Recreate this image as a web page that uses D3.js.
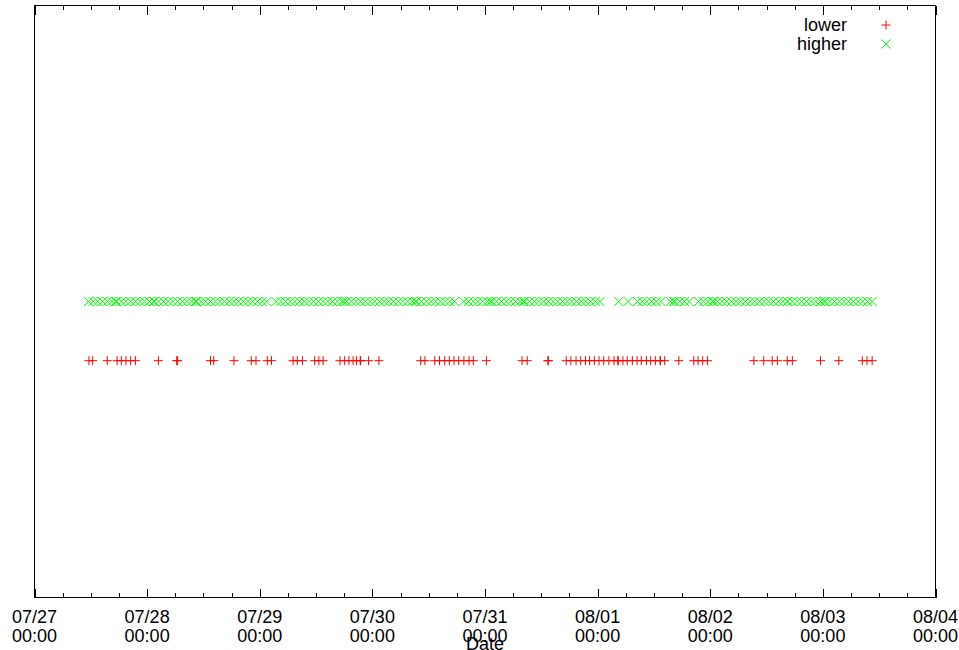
<!DOCTYPE html>
<html>
<head>
<meta charset="utf-8">
<script src="https://cdn.jsdelivr.net/npm/d3@7"></script>
<style>
  html, body { margin: 0; padding: 0; background: #fff; }
  svg { display: block; }
  text { font-family: "Liberation Sans", Arial, Helvetica, sans-serif; font-size: 18px; fill: #000; }
</style>
</head>
<body>
<svg id="chart" width="959" height="650"></svg>
<script>
// Day labels along the time axis (first line: date, second line: time)
const dayLabels = ["07/27", "07/28", "07/29", "07/30", "07/31", "08/01", "08/02", "08/03", "08/04"];
const timeLabel = "00:00";
const year = 2013;

// Series names and the level each one is plotted at
const seriesNames = ["lower", "higher"];
const seriesLevels = [1, 2];
const seriesColors = ["#ff0000", "#00ff00"];

// Sample times, in hours since 07/27 00:00
const lowerHours = [
  11.6, 12.4, 15.5, 17.6, 18.5, 19.5, 20.5, 21.5, 26.4, 30.3, 30.5, 37.5, 38.2, 42.5,
  46.2, 47.2, 49.6, 50.5, 55.1, 56.0, 57.1, 59.7, 60.6, 61.5, 65.1, 66.1, 67.0, 67.9,
  68.6, 69.4, 69.5, 71.2, 73.4,
  82.3, 83.2, 85.3, 86.3, 87.4, 88.4, 89.4, 90.4, 91.5, 92.6, 93.5, 96.3, 103.9, 105.0,
  109.4, 109.5,
  113.3, 114.3, 115.4, 116.4, 117.4, 118.3, 119.3, 120.3, 121.3, 122.4, 123.5, 124.3,
  124.4, 125.4, 126.3, 127.4, 128.4, 129.3, 130.4, 131.3, 132.3, 133.3, 133.4, 134.3,
  137.3, 140.5, 141.4, 142.4, 143.4,
  153.3, 155.4, 157.2, 158.3, 160.4, 161.5, 167.5, 171.4, 176.4, 177.4, 178.5
];

const higherHours = [
  11.5, 12.5, 13.5, 14.5, 15.5, 16.5, 17.5, 18.5, 19.5, 20.5,
  21.5, 22.5, 23.5, 24.5, 25.5, 26.5, 27.5, 28.5, 29.5, 30.5,
  31.5, 32.5, 33.5, 34.5, 35.5, 36.5, 37.5, 38.5, 39.5, 40.5,
  41.5, 42.5, 43.5, 44.5, 45.5, 46.5, 47.5, 48.5, 49.5,
  51.5, 52.5, 53.5, 54.5, 55.5, 56.5, 57.5, 58.5, 59.5, 60.5,
  61.5, 62.5, 63.5, 64.5, 65.5, 66.5, 67.5, 68.5, 69.5, 70.5,
  71.5, 72.5, 73.5, 74.5, 75.5, 76.5, 77.5, 78.5, 79.5, 80.5,
  81.5, 82.5, 83.5, 84.5, 85.5, 86.5, 87.5, 88.5, 89.5,
  91.5, 92.5, 93.5, 94.5, 95.5, 96.5, 97.5, 98.5, 99.5, 100.5,
  101.5, 102.5, 103.5, 104.5, 105.5, 106.5, 107.5, 108.5, 109.5, 110.5,
  111.5, 112.5, 113.5, 114.5, 115.5, 116.5, 117.5, 118.5, 119.5, 120.5,
  124.5, 126.5,
  128.5, 129.5, 130.5, 131.5, 132.5, 133.5,
  135.5, 136.5, 137.5, 138.5, 139.5,
  141.5, 142.5, 143.5, 144.5, 145.5, 146.5, 147.5, 148.5, 149.5, 150.5,
  151.5, 152.5, 153.5, 154.5, 155.5, 156.5, 157.5, 158.5, 159.5, 160.5,
  161.5, 162.5, 163.5, 164.5, 165.5, 166.5, 167.5, 168.5, 169.5, 170.5,
  171.5, 172.5, 173.5, 174.5, 175.5, 176.5, 177.5, 178.5,
  // repeated samples
  17.3, 25.4, 34.3, 65.9, 81.2, 97.2, 104.2, 136.2, 144.8, 160.4, 168.2
];

const HOUR = 3600 * 1000;
const parseDay = d3.timeParse("%Y/%m/%d");
const dayDates = dayLabels.map(s => parseDay(year + "/" + s));
const t0 = dayDates[0];
const toDate = h => new Date(t0.getTime() + h * HOUR);

const svg = d3.select("#chart");
const plotLeft = 34.5, plotRight = 935.5, plotTop = 5.5, plotBottom = 597.5;

const x = d3.scaleTime()
  .domain([dayDates[0], dayDates[dayDates.length - 1]])
  .range([plotLeft, plotRight]);
const y = d3.scaleLinear().domain([-3, 7]).range([plotBottom, plotTop]);

// Minor ticks every six hours
const minorTicks = d3.timeHour.every(6).range(dayDates[0], dayDates[dayDates.length - 1])
  .filter(d => d.getHours() !== 0);

const tickGroup = (sel, orient, values, size) => {
  const axis = (orient === "bottom" ? d3.axisBottom(x) : d3.axisTop(x))
    .tickValues(values).tickSize(-size).tickFormat("");
  sel.call(axis);
  sel.select(".domain").remove();
  sel.selectAll(".tick line").attr("stroke", "#000").attr("stroke-width", 1)
    .attr("shape-rendering", "crispEdges");
};

svg.append("g").attr("transform", `translate(0,${plotBottom})`).call(tickGroup, "bottom", dayDates, 9);
svg.append("g").attr("transform", `translate(0,${plotBottom})`).call(tickGroup, "bottom", minorTicks, 4.5);
svg.append("g").attr("transform", `translate(0,${plotTop})`).call(tickGroup, "top", dayDates, 9);
svg.append("g").attr("transform", `translate(0,${plotTop})`).call(tickGroup, "top", minorTicks, 4.5);

// Two-line tick labels
const labels = svg.append("g");
dayDates.forEach((d, i) => {
  const t = labels.append("text").attr("text-anchor", "middle");
  t.append("tspan").attr("x", x(d)).attr("y", 623).text(dayLabels[i]);
  t.append("tspan").attr("x", x(d)).attr("y", 642).text(timeLabel);
});

// Frame
svg.append("rect")
  .attr("x", plotLeft).attr("y", plotTop)
  .attr("width", plotRight - plotLeft).attr("height", plotBottom - plotTop)
  .attr("fill", "none").attr("stroke", "#000").attr("stroke-width", 1)
  .attr("shape-rendering", "crispEdges");

// Axis title
svg.append("text").attr("x", (plotLeft + plotRight) / 2).attr("y", 650)
  .attr("text-anchor", "middle").text("Date");

const S = 4.5;
const plusPath = (cx, cy) => `M${cx - S},${cy}H${cx + S}M${cx},${cy - S}V${cy + S}`;
const crossPath = (cx, cy) => `M${cx - S},${cy - S}L${cx + S},${cy + S}M${cx - S},${cy + S}L${cx + S},${cy - S}`;
const shapes = [plusPath, crossPath];

const plot = svg.append("g");
[lowerHours, higherHours].forEach((hours, i) => {
  plot.append("g").selectAll("path").data(hours).join("path")
    .attr("d", h => shapes[i](x(toDate(h)), y(seriesLevels[i])))
    .attr("fill", "none")
    .attr("stroke", seriesColors[i])
    .attr("stroke-width", 1);
});

// Legend
const legend = svg.append("g");
seriesNames.forEach((name, i) => {
  const ly = 25 + i * 19;
  legend.append("text").attr("x", 847).attr("y", ly + 6).attr("text-anchor", "end").text(name);
  legend.append("path").attr("d", shapes[i](886, ly))
    .attr("fill", "none").attr("stroke", seriesColors[i]).attr("stroke-width", 1);
});
</script>
</body>
</html>
